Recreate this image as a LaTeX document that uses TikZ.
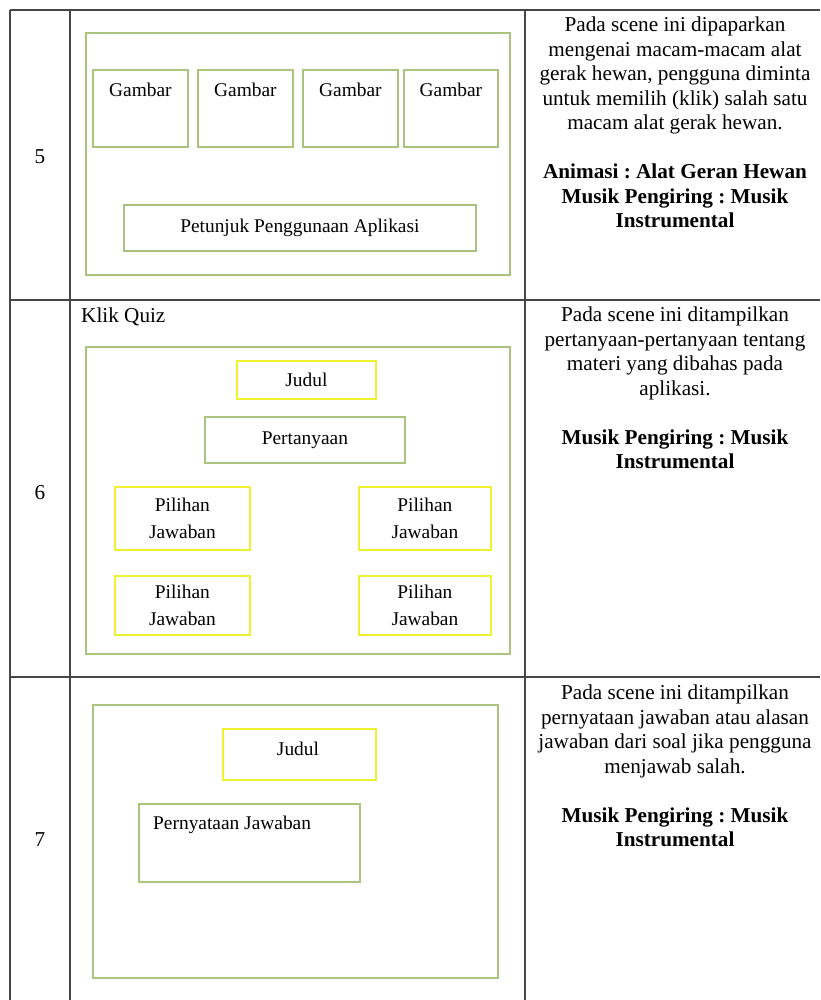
\documentclass[tikz,border=0pt]{standalone}
\usepackage{fontspec}
\setmainfont{Liberation Serif}
\frenchspacing
\definecolor{tline}{RGB}{70,70,70}
\definecolor{gbox}{RGB}{170,195,125}
\definecolor{ybox}{RGB}{240,240,50}
\begin{document}
\begin{tikzpicture}[x=1pt,y=-1pt,
  tableline/.style={draw=tline,line width=1.1pt},
  greenbox/.style={draw=gbox,line width=1.8pt,inner sep=0pt,anchor=north west},
  yellowbox/.style={draw=ybox,line width=1.8pt,inner sep=0pt,anchor=north west},
  boxtext/.style={font=\fontsize{19.4}{26.5}\selectfont,inner sep=0pt,align=center},
  bigtext/.style={font=\fontsize{21.2}{24.5}\selectfont,inner sep=0pt},
  desctext/.style={font=\fontsize{21.2}{24.5}\selectfont,inner sep=0pt,align=center,anchor=north}]
\useasboundingbox (0,0) rectangle (820,1000);
% table
\coordinate (tl) at (10,10);
\coordinate (tr) at (820,10);
\coordinate (bl) at (10,1000);
\coordinate (c1t) at (70,10);
\coordinate (c1b) at (70,1000);
\coordinate (c2t) at (525,10);
\coordinate (c2b) at (525,1000);
\coordinate (r1l) at (10,300);
\coordinate (r1r) at (820,300);
\coordinate (r2l) at (10,677);
\coordinate (r2r) at (820,677);
\draw[tableline] (tl) -- (tr);
\draw[tableline] (tl) -- (bl);
\draw[tableline] (c1t) -- (c1b);
\draw[tableline] (c2t) -- (c2b);
\draw[tableline] (r1l) -- (r1r);
\draw[tableline] (r2l) -- (r2r);
% numbers
\node[bigtext] (n5) at (40,157) {5};
\node[bigtext] (n6) at (40,493) {6};
\node[bigtext] (n7) at (40,840) {7};
% row 5
\node[greenbox,minimum width=424,minimum height=242] (o5) at (85,32) {};
\node[greenbox,minimum width=95,minimum height=77] (g1) at (92,69) {};
\node[greenbox,minimum width=95,minimum height=77] (g2) at (197,69) {};
\node[greenbox,minimum width=95,minimum height=77] (g3) at (302,69) {};
\node[greenbox,minimum width=94,minimum height=77] (g4) at (403,69) {};
\node[boxtext,anchor=base] (g1t) at ([yshift=-28pt]g1.north) {Gambar};
\node[boxtext,anchor=base] (g2t) at ([yshift=-28pt]g2.north) {Gambar};
\node[boxtext,anchor=base] (g3t) at ([yshift=-28pt]g3.north) {Gambar};
\node[boxtext,anchor=base] (g4t) at ([yshift=-28pt]g4.north) {Gambar};
\node[greenbox,minimum width=352,minimum height=46] (pet) at (123,204) {};
\node[boxtext] (pett) at (pet.center) {Petunjuk Penggunaan Aplikasi};
\node[desctext] (d5) at (675,17) {Pada scene ini dipaparkan\\ mengenai macam-macam alat\\ gerak hewan, pengguna diminta\\ untuk memilih (klik) salah satu\\ macam alat gerak hewan.\\[24.5pt]
\textbf{Animasi : Alat Geran Hewan}\\ \textbf{Musik Pengiring : Musik}\\ \textbf{Instrumental}};
% row 6
\node[bigtext,anchor=base west] (kq) at (81,322) {Klik Quiz};
\node[greenbox,minimum width=424,minimum height=307] (o6) at (85,346) {};
\node[yellowbox,minimum width=139,minimum height=38] (j6) at (236,360) {};
\node[boxtext] (j6t) at (j6.center) {Judul};
\node[greenbox,minimum width=200,minimum height=46] (per) at (204,416) {};
\node[boxtext] (pert) at (per.center) {Pertanyaan};
\node[yellowbox,minimum width=135,minimum height=63] (p1) at (114,486) {};
\node[yellowbox,minimum width=132,minimum height=63] (p2) at (358,486) {};
\node[yellowbox,minimum width=135,minimum height=59] (p3) at (114,575) {};
\node[yellowbox,minimum width=132,minimum height=59] (p4) at (358,575) {};
\node[boxtext] (p1t) at (p1.center) {Pilihan\\ Jawaban};
\node[boxtext] (p2t) at (p2.center) {Pilihan\\ Jawaban};
\node[boxtext] (p3t) at (p3.center) {Pilihan\\ Jawaban};
\node[boxtext] (p4t) at (p4.center) {Pilihan\\ Jawaban};
\node[desctext] (d6) at (675,307) {Pada scene ini ditampilkan\\ pertanyaan-pertanyaan tentang\\ materi yang dibahas pada\\ aplikasi.\\[24.5pt]
\textbf{Musik Pengiring : Musik}\\ \textbf{Instrumental}};
% row 7
\node[greenbox,minimum width=405,minimum height=273] (o7) at (92,704) {};
\node[yellowbox,minimum width=153,minimum height=51] (j7) at (222,728) {};
\node[boxtext,anchor=base] (j7t) at (298,755) {Judul};
\node[greenbox,minimum width=221,minimum height=78] (pj) at (138,803) {};
\node[boxtext,anchor=base west] (pjt) at (153,829) {Pernyataan Jawaban};
\node[desctext] (d7) at (675,685) {Pada scene ini ditampilkan\\ pernyataan jawaban atau alasan\\ jawaban dari soal jika pengguna\\ menjawab salah.\\[24.5pt]
\textbf{Musik Pengiring : Musik}\\ \textbf{Instrumental}};
\end{tikzpicture}
\end{document}
